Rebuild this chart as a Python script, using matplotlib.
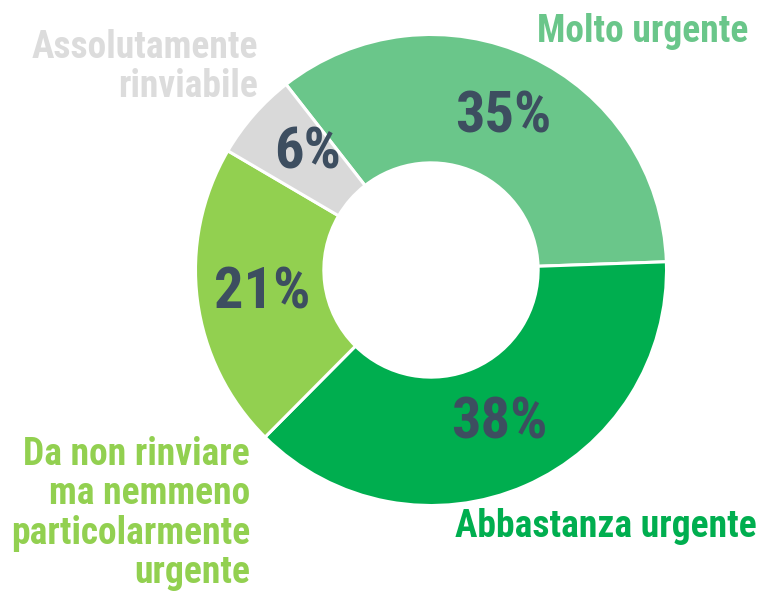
import matplotlib
matplotlib.use("Agg")
import matplotlib.pyplot as plt
from matplotlib import font_manager

# data
labels = ["Molto urgente", "Abbastanza urgente",
          "Da non rinviare\nma nemmeno\nparticolarmente\nurgente",
          "Assolutamente\nrinviabile"]
values = [35, 38, 21, 6]
colors = ["#6AC68A", "#00AE4F", "#92D050", "#D9D9D9"]
label_colors = ["#6AC68A", "#00AE4F", "#92D050", "#DCDCDC"]

# pick a narrow bold font if there is one
installed = {f.name for f in font_manager.fontManager.ttflist}
family = "DejaVu Sans"
for name in ["Liberation Sans Narrow", "Arial Narrow", "Roboto Condensed", "DejaVu Sans Condensed"]:
    if name in installed:
        family = name
        break
plt.rcParams["font.family"] = [family, "DejaVu Sans"]

W, H = 764, 593
fig = plt.figure(figsize=(W / 100, H / 100), dpi=100)
ax = fig.add_axes([0, 0, 1, 1])

cx, cy, r = 431, 270, 235.5
wedges, _ = ax.pie(values, colors=colors, startangle=-128, counterclock=True,
                   center=(cx, cy), radius=r, frame=True,
                   wedgeprops=dict(width=r * 0.545, edgecolor="white", linewidth=2.2))
ax.set_xlim(0, W)
ax.set_ylim(H, 0)
ax.set_aspect("equal")
ax.axis("off")

# percent labels
pct_pos = [(503, 117), (499, 423), (262, 293), (308, 153)]
for v, (x, y) in zip(values, pct_pos):
    ax.text(x, y, f"{v}%", ha="center", va="center", fontsize=42,
            fontweight="bold", color="#3D4E60")

# category labels
ax.text(748, 42, labels[0], ha="right", va="baseline", fontsize=27,
        fontweight="bold", color=label_colors[0])
ax.text(757, 537, labels[1], ha="right", va="baseline", fontsize=27,
        fontweight="bold", color=label_colors[1])
ax.text(250, 436, labels[2], ha="right", va="top", fontsize=27,
        fontweight="bold", color=label_colors[2], linespacing=1.08)
ax.text(258, 29, labels[3], ha="right", va="top", fontsize=27,
        fontweight="bold", color=label_colors[3], linespacing=1.08)

fig.savefig("out.png", dpi=100)
